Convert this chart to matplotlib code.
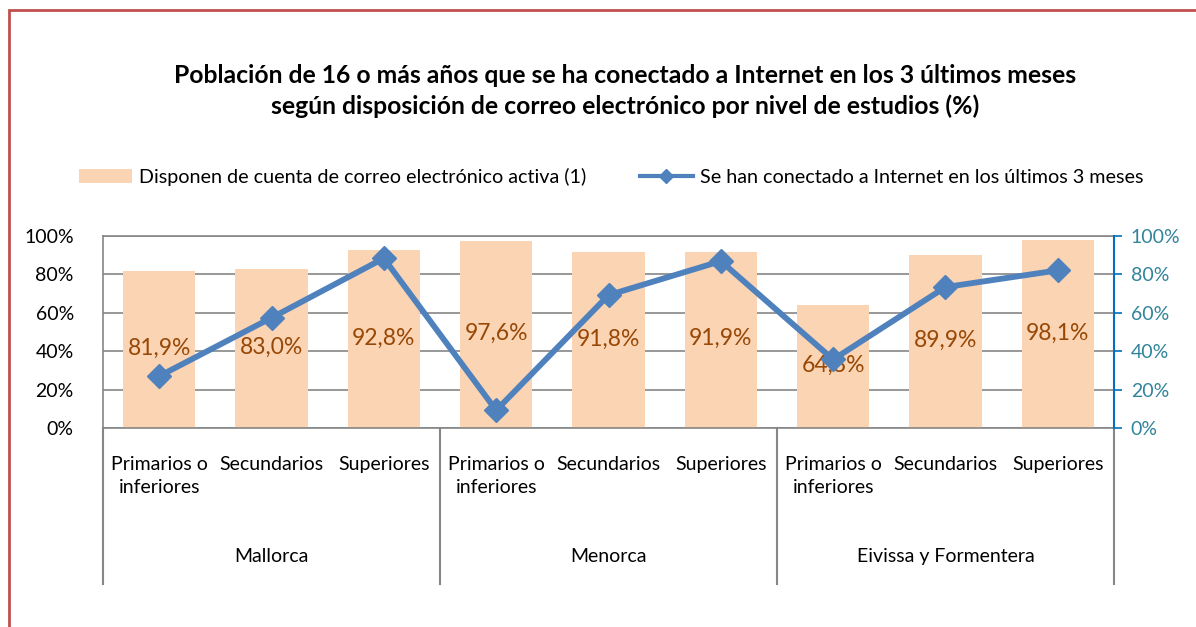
import numpy as np
import matplotlib.pyplot as plt
from matplotlib.patches import Patch, Rectangle
from matplotlib.lines import Line2D
import matplotlib.transforms as mtransforms

plt.rcParams['font.family'] = ['Lato', 'DejaVu Sans']

# Data
niveles = ['Primarios o\ninferiores', 'Secundarios', 'Superiores'] * 3
islas = ['Mallorca', 'Menorca', 'Eivissa y Formentera']
correo = [81.9, 83.0, 92.8, 97.6, 91.8, 91.9, 64.3, 89.9, 98.1]
internet = [27.0, 57.4, 88.4, 9.2, 69.2, 86.9, 35.7, 73.4, 82.1]
etiquetas = ['81,9%', '83,0%', '92,8%', '97,6%', '91,8%', '91,9%', '64,3%', '89,9%', '98,1%']

bar_color = '#FBD4B4'
line_color = '#4F81BD'
label_color = '#974806'
grid_color = '#868686'

fig = plt.figure(figsize=(11.96, 6.27), dpi=100)
ax = fig.add_axes([103 / 1196, 1 - 428 / 627, (1114 - 103) / 1196, (428 - 236) / 627])

x = np.arange(len(correo))
ax.bar(x, correo, width=0.645, color=bar_color, zorder=2)
for xi, v, t in zip(x, correo, etiquetas):
    ax.text(xi, v / 2 + 0.5, t, ha='center', va='center', fontsize=16.5, color=label_color, zorder=5)

ax.set_xlim(-0.5, 8.5)
ax.set_ylim(0, 100)
ax.set_yticks(range(0, 101, 20))
ax.set_yticklabels([f'{v}%' for v in range(0, 101, 20)], fontsize=14)
ax.tick_params(axis='y', length=0, pad=21)
ax.yaxis.grid(True, color=grid_color, linewidth=1.2, zorder=0)
ax.set_axisbelow(True)
for s in ['top', 'left', 'bottom']:
    ax.spines[s].set_color(grid_color)
    ax.spines[s].set_linewidth(1.2)
ax.spines['right'].set_visible(False)

ax.set_xticks(x)
ax.set_xticklabels(niveles, fontsize=14, linespacing=1.45)
ax.tick_params(axis='x', length=0, pad=20)

# group labels and separators
trans = mtransforms.blended_transform_factory(ax.transData, ax.transAxes)
for i, isla in enumerate(islas):
    ax.text(3 * i + 1, -0.67, isla, transform=trans, ha='center', va='center', fontsize=14)
for b in [-0.5, 2.5, 5.5, 8.5]:
    ax.add_line(Line2D([b, b], [0, -0.81], transform=trans, color=grid_color,
                       linewidth=1.5, clip_on=False))

# secondary axis
ax2 = ax.twinx()
ax2.plot(x, internet, color=line_color, linewidth=4.2, marker='D', markersize=12, zorder=4)
ax2.set_ylim(0, 100)
ax2.set_yticks(range(0, 101, 20))
ax2.set_yticklabels([f'{v}%' for v in range(0, 101, 20)], fontsize=14, color='#31849B')
ax2.tick_params(axis='y', direction='out', length=6, color='#0070C0', width=1.2, pad=6)
for s in ['top', 'left', 'bottom']:
    ax2.spines[s].set_visible(False)
ax2.spines['right'].set_color('#0070C0')
ax2.spines['right'].set_linewidth(1.5)

fig.text(0.523, 0.855, 'Población de 16 o más años que se ha conectado a Internet en los 3 últimos meses\n'
         'según disposición de correo electrónico por nivel de estudios (%)',
         ha='center', va='center', fontsize=17.8, fontweight='bold', linespacing=1.42)

handles = [Patch(facecolor=bar_color, edgecolor='none'),
           Line2D([], [], color=line_color, linewidth=3, marker='D', markersize=7)]
fig.legend(handles, ['Disponen de cuenta de correo electrónico activa (1)',
                     'Se han conectado a Internet en los últimos 3 meses'],
           loc='center', bbox_to_anchor=(0.511, 0.718), ncol=2, frameon=False,
           fontsize=14.2, handlelength=2.7, handleheight=0.75, columnspacing=2.7, handletextpad=0.35)

# outer border
fig.patches.append(Rectangle((9 / 1196, -0.1), 1.2, 1 - 10 / 627 + 0.1, transform=fig.transFigure,
                             fill=False, edgecolor='#C0504D', linewidth=2))

fig.savefig('out.png', dpi=100)
